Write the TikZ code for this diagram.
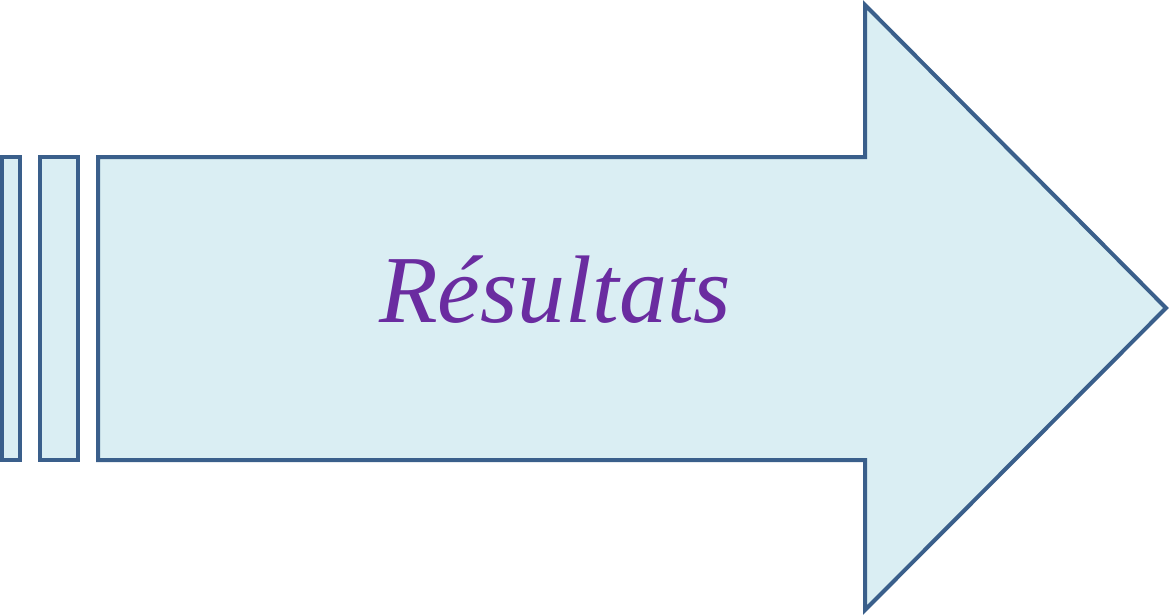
\documentclass[tikz,border=0pt]{standalone}
\usepackage{fontspec}
\setmainfont{Liberation Serif}
\usepackage{tikz}
\usetikzlibrary{calc}

\definecolor{edgeblue}{HTML}{3A5F8B}
\definecolor{paleblue}{HTML}{DAEEF3}
\definecolor{violet}{HTML}{6A2CA0}

\tikzset{
  stripe/.style={draw=edgeblue,fill=paleblue,line width=4pt,line join=miter},
}

\begin{document}
\begin{tikzpicture}[x=1pt,y=-1pt]
            \useasboundingbox (0,0) rectangle (1169,614);
            \coordinate (t) at (98,157);
            \coordinate (b) at (98,460);
            \coordinate (n) at (865,5);
            \coordinate (s) at (865,610);
            \coordinate (tip) at (1166,308);

            % the two thin bars at the tail
            \draw[stripe] (2,157) rectangle (20,460);
            \draw[stripe] (40,157) rectangle (78,460);

            % arrow body and head
            \draw[stripe] (t) -- (t-|n) -- (n) -- (tip) -- (s) -- (b-|s) -- (b) -- cycle;

            \node[anchor=base,text=violet,font=\fontsize{96}{100}\selectfont\itshape] (lbl) at (555,322) {Résultats};
        \end{tikzpicture}
\end{document}
